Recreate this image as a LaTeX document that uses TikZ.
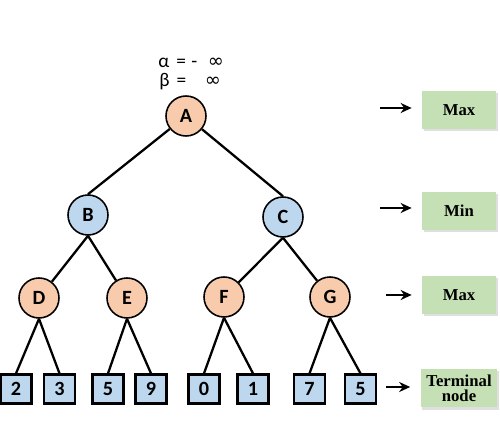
\documentclass[tikz,border=0pt]{standalone}
\usepackage{fontspec}
\setmainfont{Carlito}
\newfontfamily\tagfont{Liberation Serif}
\newfontfamily\symfont{DejaVu Sans}
\usetikzlibrary{arrows.meta,shadows}
\definecolor{peach}{HTML}{F8CBAD}
\definecolor{sky}{HTML}{BDD7EE}
\definecolor{leafgreen}{HTML}{C5E0B4}
\begin{document}
\begin{tikzpicture}[x=0.2mm,y=-0.2mm,
	maxnode/.style={circle,draw,fill=peach,line width=0.9pt,minimum size=8mm,inner sep=0,
	font=\bfseries\fontsize{11.5}{11.5}\selectfont},
	minnode/.style={maxnode,fill=sky},
	leaf/.style={rectangle,draw,fill=sky,line width=1.2pt,minimum width=6.2mm,minimum height=5.8mm,
	inner sep=0,font=\bfseries\fontsize{11.5}{11.5}\selectfont},
	tagbox/.style={rectangle,fill=leafgreen,minimum width=14.8mm,minimum height=7.6mm,align=center,
	drop shadow={shadow xshift=0.3mm,shadow yshift=-0.5mm,opacity=0.25},
	font=\tagfont\bfseries\fontsize{9.5}{8.5}\selectfont},
	bound/.style={anchor=west,inner sep=0,font=\fontsize{11}{11}\selectfont},
	pointer/.style={-{Stealth[length=2.2mm,width=2mm]},line width=1.5pt,shorten >=2mm},
	branch/.style={line width=1.3pt}]
\useasboundingbox (0,0) rectangle (500,447);
% bounds
\node[bound] (alpha) at (158,63) {α\hspace{1.4mm}=\hspace{1.1mm}-\hspace{2.1mm}{\symfont ∞}};
\node[bound] (beta) at (159,82) {β\hspace{1.4mm}=\hspace{3.7mm}{\symfont ∞}};
% tree
\node[maxnode] (A) at (186,116) {A};
\node[minnode] (B) at (88,215) {B};
\node[minnode] (C) at (283,217) {C};
\node[maxnode] (D) at (39,298) {D};
\node[maxnode] (E) at (127,298) {E};
\node[maxnode] (F) at (224,297) {F};
\node[maxnode] (G) at (330,297) {G};
\node[leaf] (d1) at (16,389) {2};
\node[leaf] (d2) at (59.5,389) {3};
\node[leaf] (e1) at (108,389) {5};
\node[leaf] (e2) at (151,389) {9};
\node[leaf] (f1) at (204,389) {0};
\node[leaf] (f2) at (253,389) {1};
\node[leaf] (g1) at (309.5,389) {7};
\node[leaf] (g2) at (360.5,389) {5};
\draw[branch] (A) -- (B.north);
\draw[branch] (A) -- (C.north);
\draw[branch] (B.south) -- (D);
\draw[branch] (B.south) -- (E);
\draw[branch] (C.south) -- (F);
\draw[branch] (C.south) -- (G);
\draw[branch] (D.south) -- (d1.north);
\draw[branch] (D.south) -- (d2.north);
\draw[branch] (E.south) -- (e1.north);
\draw[branch] (E.south) -- (e2.north);
\draw[branch] (F.south) -- (f1.north);
\draw[branch] (F.south) -- (f2.north);
\draw[branch] (G.south) -- (g1.north);
\draw[branch] (G.south) -- (g2.north);
% levels
\node[tagbox] (tmax) at (459,110) {Max};
\node[tagbox] (tmin) at (459,211) {Min};
\node[tagbox] (tmax2) at (459,295) {Max};
\node[tagbox] (tterm) at (459,388) {Terminal\\node};
\coordinate (p1) at (380,108);
\coordinate (p2) at (380,208);
\coordinate (p3) at (386,295);
\coordinate (p4) at (386,387);
\draw[pointer] (p1) -- (p1 -| tmax.west);
\draw[pointer] (p2) -- (p2 -| tmin.west);
\draw[pointer] (p3) -- (p3 -| tmax2.west);
\draw[pointer] (p4) -- (p4 -| tterm.west);
\end{tikzpicture}
\end{document}
